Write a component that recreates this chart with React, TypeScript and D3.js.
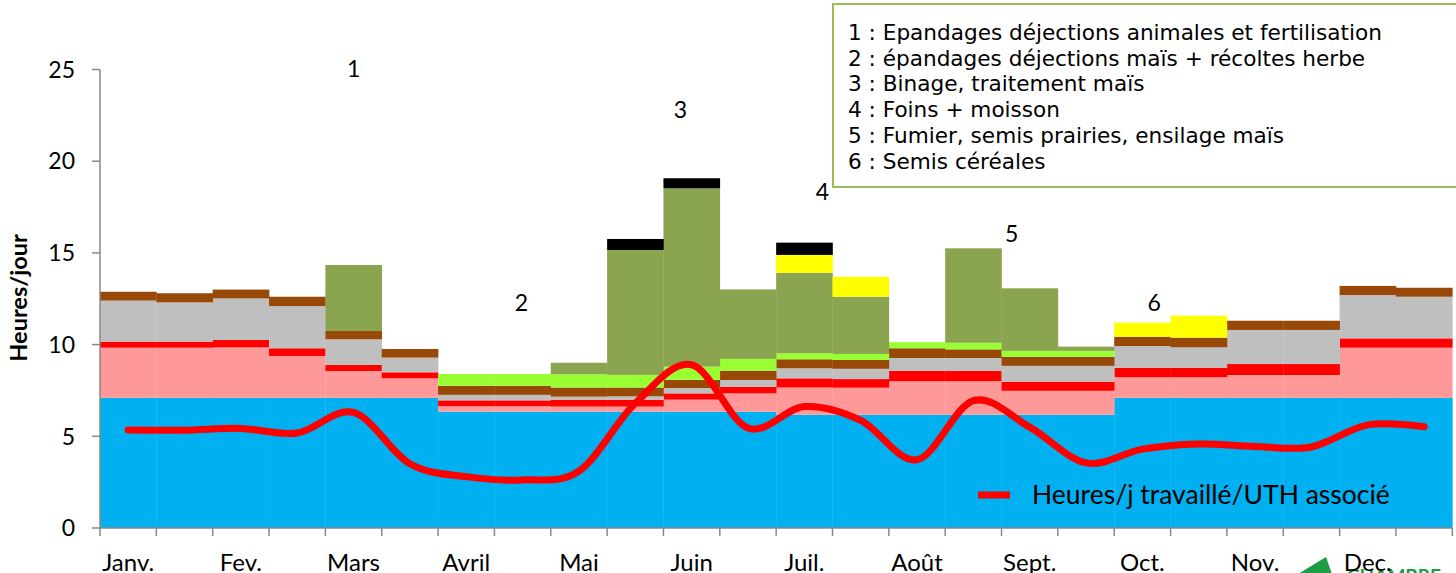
import React from "react";
import * as d3 from "d3";

// ---------- DATA ----------
const months = ["Janv.", "Fev.", "Mars", "Avril", "Mai", "Juin", "Juil.", "Août", "Sept.", "Oct.", "Nov.", "Dec."];
const periods = months.flatMap((m) => [m + " 1", m + " 2"]);
const yTicks = [0, 5, 10, 15, 20, 25];

// stacked layers, bottom to top (hours / day, per half-month)
const layerBlue = [7.1, 7.1, 7.1, 7.1, 7.1, 7.1, 6.34, 6.34, 6.34, 6.34, 6.34, 6.34, 6.18, 6.18, 6.18, 6.18, 6.18, 6.18, 7.1, 7.1, 7.1, 7.1, 7.1, 7.1];
const layerPink = [2.73, 2.73, 2.75, 2.28, 1.46, 1.06, 0.3, 0.3, 0.28, 0.28, 0.66, 1.0, 1.48, 1.47, 1.82, 1.82, 1.3, 1.3, 1.12, 1.12, 1.24, 1.24, 2.73, 2.73];
const layerRed = [0.33, 0.33, 0.4, 0.42, 0.33, 0.33, 0.32, 0.32, 0.36, 0.36, 0.34, 0.35, 0.5, 0.47, 0.56, 0.56, 0.5, 0.5, 0.52, 0.52, 0.6, 0.6, 0.51, 0.51];
const layerGray = [2.24, 2.14, 2.27, 2.3, 1.4, 0.8, 0.3, 0.3, 0.18, 0.2, 0.29, 0.38, 0.55, 0.56, 0.71, 0.71, 0.86, 0.86, 1.18, 1.11, 1.86, 1.86, 2.36, 2.27];
const layerBrown = [0.48, 0.5, 0.48, 0.51, 0.45, 0.47, 0.49, 0.49, 0.5, 0.48, 0.45, 0.51, 0.49, 0.48, 0.53, 0.47, 0.5, 0.5, 0.51, 0.53, 0.5, 0.5, 0.5, 0.49];
const layerLime = [0, 0, 0, 0, 0, 0, 0.65, 0.65, 0.72, 0.69, 0.72, 0.64, 0.33, 0.33, 0.33, 0.36, 0.32, 0.32, 0, 0, 0, 0, 0, 0];
const layerOlive = [0, 0, 0, 0, 3.6, 0, 0, 0, 0.63, 6.81, 9.72, 3.79, 4.39, 3.12, 0, 5.15, 3.41, 0.23, 0, 0, 0, 0, 0, 0];
const layerYellow = [0, 0, 0, 0, 0, 0, 0, 0, 0, 0, 0, 0, 0.97, 1.09, 0, 0, 0, 0, 0.77, 1.2, 0, 0, 0, 0];
const layerBlack = [0, 0, 0, 0, 0, 0, 0, 0, 0, 0.6, 0.55, 0, 0.67, 0, 0, 0, 0, 0, 0, 0, 0, 0, 0, 0];

// line: hours worked per day per associated UTH
const lineHours = [5.34, 5.33, 5.43, 5.18, 6.3, 3.5, 2.8, 2.62, 3.1, 6.8, 8.9, 5.45, 6.62, 5.87, 3.72, 6.94, 5.5, 3.55, 4.3, 4.58, 4.45, 4.42, 5.62, 5.52];
const lineLabel = "Heures/j travaillé/UTH associé";

const noteLabels = ["1", "2", "3", "4", "5", "6"];
const notePeriods = ["Mars 1", "Avril 2", "Juin 1", "Juil. 1", "Sept. 1", "Oct. 1"];
const noteValues = [24.6, 11.83, 22.36, 17.88, 15.6, 11.83];
const noteOffsets = [0.5, 0.48, 0.3, 0.82, 0.18, 0.71];

const legendLines = [
  "1 : Epandages déjections animales et fertilisation",
  "2 : épandages déjections maïs + récoltes herbe",
  "3 : Binage, traitement maïs",
  "4 : Foins + moisson",
  "5 : Fumier, semis prairies, ensilage maïs",
  "6 : Semis céréales",
];

const layerKeys = ["blue", "pink", "red", "gray", "brown", "lime", "olive", "yellow", "black"];
const layerArrays = [layerBlue, layerPink, layerRed, layerGray, layerBrown, layerLime, layerOlive, layerYellow, layerBlack];
const layerColors = ["#00b0f0", "#ff9999", "#ff0000", "#bfbfbf", "#984807", "#99ff33", "#8ba44f", "#ffff00", "#000000"];

// ---------- CHART ----------
const W = 1456;
const H = 573;
const axisColor = "#898989";
const calibri = "Lato, 'Open Sans', sans-serif";

export default function App() {
  const x = d3.scaleBand<string>().domain(periods).range([100, 1452.3]).padding(0);
  const y = d3.scaleLinear().domain([0, 25]).range([528, 69.5]);

  const rows = periods.map((p, i) => {
    const o: any = { period: p };
    layerKeys.forEach((k, j) => (o[k] = layerArrays[j][i]));
    return o;
  });
  const stacked = d3.stack<any>().keys(layerKeys)(rows);

  const line = d3
    .line<number>()
    .x((_, i) => (x(periods[i]) as number) + x.bandwidth() / 2)
    .y((d) => y(d))
    .curve(d3.curveCardinal.tension(0));

  const bw = x.bandwidth();
  const boundaries = d3.range(periods.length + 1).map((i) => 100 + i * bw);

  return (
    <svg width={W} height={H} style={{ position: "absolute", left: 0, top: 0, background: "#fff" }}>
      {/* bars */}
      {stacked.map((s, j) => (
        <g key={s.key} fill={layerColors[j]}>
          {s.map((d, i) =>
            d[1] - d[0] > 0 ? (
              <rect
                key={i}
                x={x(periods[i]) as number}
                width={bw + 0.3}
                y={y(d[1])}
                height={y(d[0]) - y(d[1])}
              />
            ) : null
          )}
        </g>
      ))}

      {/* axes */}
      <line x1={100} x2={100} y1={y(25)} y2={y(0)} stroke={axisColor} strokeWidth={1.5} />
      {yTicks.map((t) => (
        <g key={t}>
          <line x1={92} x2={100} y1={y(t)} y2={y(t)} stroke={axisColor} strokeWidth={1.5} />
          <text x={75} y={y(t)} dy="0.36em" textAnchor="end" fontFamily={calibri} fontSize={23} fill="#000">
            {t}
          </text>
        </g>
      ))}
      <line x1={100} x2={1452.3} y1={y(0)} y2={y(0)} stroke={axisColor} strokeWidth={1.5} />
      {boundaries.map((bx, i) => (
        <line key={i} x1={bx} x2={bx} y1={y(0)} y2={y(0) + 8} stroke={axisColor} strokeWidth={1.5} />
      ))}

      {/* logo (partially visible) */}
      <polygon points="1298,574 1326,557 1332,574" fill="#1e9c48" />
      <text x={1347} y={583} fontFamily={calibri} fontWeight={700} fontSize={19} fill="#1e9c48">
        CHAMBRE
      </text>

      {months.map((m) => (
        <text
          key={m}
          x={(x(m + " 1") as number) + bw / 2}
          y={571}
          textAnchor="middle"
          fontFamily={calibri}
          fontSize={24}
          fill="#000"
        >
          {m}
        </text>
      ))}

      <text
        transform={`translate(27,298) rotate(-90)`}
        textAnchor="middle"
        fontFamily={calibri}
        fontWeight={700}
        fontSize={23.5}
        fill="#000"
      >
        Heures/jour
      </text>

      {/* line */}
      <path d={line(lineHours) as string} fill="none" stroke="#ff0000" strokeWidth={7} strokeLinecap="round" strokeLinejoin="round" />

      {/* line legend */}
      <line x1={978} x2={1010} y1={495} y2={495} stroke="#ff0000" strokeWidth={7} />
      <text x={1032} y={504} fontFamily={calibri} fontSize={26.5} fill="#000">
        {lineLabel}
      </text>

      {/* numbered annotations */}
      {noteLabels.map((n, i) => (
        <text
          key={n}
          x={(x(notePeriods[i]) as number) + bw * noteOffsets[i]}
          y={y(noteValues[i])}
          textAnchor="middle"
          fontFamily={calibri}
          fontSize={23}
          fill="#000"
        >
          {n}
        </text>
      ))}

      {/* legend box */}
      <rect x={833} y={4} width={640} height={183} fill="#fff" stroke="#9bbb59" strokeWidth={2} />
      {legendLines.map((t, i) => (
        <text
          key={i}
          x={848}
          y={40 + i * 25.7}
          fontFamily="'DejaVu Sans', sans-serif"
          fontSize={21.6}
          fill="#000"
        >
          {t}
        </text>
      ))}
    </svg>
  );
}
